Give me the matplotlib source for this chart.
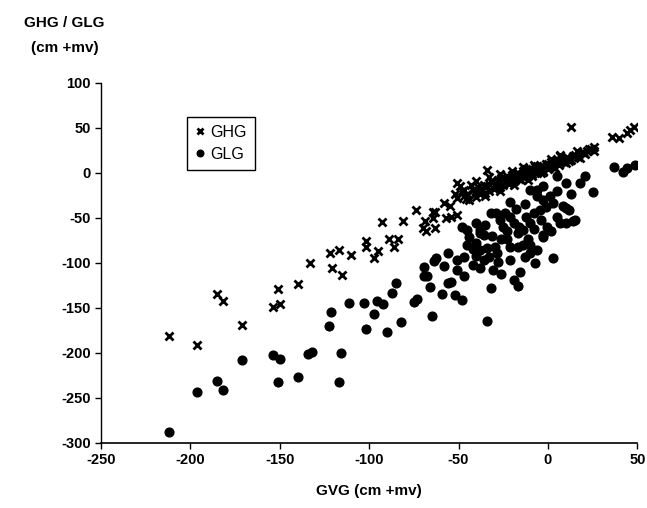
import matplotlib
matplotlib.use("Agg")
import matplotlib.pyplot as plt

plt.rcParams['font.family'] = ['Liberation Sans', 'DejaVu Sans']
plt.rcParams['axes.unicode_minus'] = False

# GHG points (GVG, GHG)
ghg_x = [-212, -196, -185, -182, -171, -151, -154, -150, -140, -133, -122, -117, -121, -115,
         -110, -97, -95, -102, -102, -89, -84, -86, -93, -81, -74, -64, -64, -69, -70, -68,
         -63, -58, -57, -55, -51, -49, -47, -47, -52, -51, -54, -51, -63, -34,
         13, 36, 40, 44, 48, 46, 24, 26, 16, 20, 7, 10,
         -45, -44, -42, -40, -39, -38, -36, -35, -34, -33, -31, -30, -29, -28, -27, -26,
         -25, -24, -23, -22, -21, -20, -19, -18, -17, -16, -15, -14, -13, -12, -11, -10,
         -9, -8, -7, -6, -5, -4, -3, -2, -1, 0, 1, 2, 3, 4, 5, 6, 8, 9, 11, 13, 15, 17,
         19, 21, 23, 26, -40, -33, -27, -20, -14, -8, 7, 10, 2,
         -48, -46, -43, -41, -37, -32, -29, -25, -22, -18, -15, -12, -9, -6, -3, 0, 3, 6,
         10, 14, 18, 22, -35, -27, -19, -11, -4, 4, 12]
ghg_y = [-181, -191, -134, -142, -169, -129, -149, -146, -123, -100, -89, -86, -106, -114,
         -91, -95, -87, -76, -82, -74, -73, -82, -55, -53, -41, -43, -50, -54, -61, -65,
         -61, -34, -50, -37, -11, -15, -19, -26, -23, -28, -49, -47, -44, 3,
         51, 40, 39, 44, 51, 48, 27, 29, 24, 22, 20, 16,
         -24, -30, -19, -27, -16, -24, -13, -22, -15, -20, -10, -18, -12, -8, -16, -6,
         -13, -9, -4, -12, -6, -2, -9, -4, 0, -7, -2, 2, -5, 1, -3, 4,
         -1, 3, 6, 0, 5, 8, 2, 7, 10, 4, 9, 12, 6, 11, 14, 9, 15, 12, 17, 14, 20, 18,
         23, 21, 26, 24, -9, -5, -1, 2, 6, 9, 19, 17, 15,
         -20, -29, -14, -22, -18, -9, -16, -7, -10, -1, -8, 4, -4, 8, 1, 10, 7, 13,
         11, 19, 16, 24, -26, -20, -14, -8, 0, 5, 13]

# GLG points (GVG, GLG)
glg_x = [-212, -196, -185, -182, -171, -154, -150, -151, -140,
         -121.5, -122.6, -116, -117, -134, -132, -111, -103, -95.5, -92, -97, -102, -90, -82,
         -87, -85, -75, -73, -65, -59, -66, -69.5, -67.6, -69.5, -63.5, -62.4, -55.6, -55.6,
         -44, -40, -38, -36, -40, -38, -34, -33, -36, -38, -42, -29.5, -28.6, -26, -28, -30.5,
         -23, -23, -21, -21, -17, -16.6, -14, -11, -10, -13, -15.6, -19, -16.6, -32, -51, -47,
         -51, -47, -54, -52, -48, -34,
         -32, -29, -27, -21, -19, -16, -12, -8, -10, -6, -21, -45, -38,
         37, 42, 44, 48.5, 20.6, 25, 18, 13, 15, 10, 3, 5, 10, 8.5, 12, 10.4, 1, 3, 5,
         -2.6, -6.3, -4.5, -0.7, -2.6, -10, -2.6, -6.3, -10, 7, 14,
         -48, -42, -35, -31, -25, -18, -14, -8, -4, -1, 2, -7, -26, -45, -3, 5, -13, -40,
         -24, -58]
glg_y = [-288, -243, -231, -241, -208, -202, -207, -232, -227,
         -155, -170, -200, -232, -201, -199, -144, -144, -142, -146, -157, -173, -177, -166,
         -133, -122, -143, -140, -159, -134, -127, -115, -115, -105, -98, -95, -89, -122,
         -71, -56, -67, -69, -78, -86, -84, -93, -97, -106, -102, -82, -89, -73, -99, -108,
         -65, -74, -82, -97, -67, -82, -63, -74, -89, -93, -110, -119, -126, -128, -97, -93,
         -108, -115, -121, -136, -141, -165,
         -45, -45, -52, -49, -56, -60, -49, -45, -19, -19, -32, -63, -63,
         7, 1, 5, 9, -4, -21, -11, -24, -52, -39, -95, -4, -11, -37, -41, -56, -26, -34, -49,
         -15, -26, -41, -60, -69, -56, -71, -86, -80, -56, -54,
         -60, -85, -58, -70, -60, -40, -80, -62, -52, -38, -65, -100, -112, -80, -30, -20,
         -35, -92, -45, -104]

fig = plt.figure(figsize=(6.47, 5.08), dpi=100)
ax = fig.add_axes([0.156, 0.128, 0.829, 0.709])

ax.plot(ghg_x, ghg_y, linestyle='none', marker='x', markersize=6, markeredgewidth=2,
        color='black', label='GHG')
ax.plot(glg_x, glg_y, linestyle='none', marker='o', markersize=6.3, color='black',
        label='GLG')

ax.set_xlim(-250, 50)
ax.set_ylim(-300, 100)
ax.set_xticks(range(-250, 51, 50))
ax.set_yticks(range(-300, 101, 50))
ax.tick_params(direction='out', length=4, width=1, labelsize=10.5, colors='black')
for lab in ax.get_xticklabels() + ax.get_yticklabels():
    lab.set_fontweight('bold')

ax.spines['top'].set_visible(False)
ax.spines['right'].set_visible(False)
ax.spines['left'].set_linewidth(1)
ax.spines['bottom'].set_linewidth(1.2)

ax.set_xlabel('GVG (cm +mv)', fontsize=11, fontweight='bold', labelpad=12)
fig.text(0.10, 0.955, 'GHG / GLG', fontsize=11, fontweight='bold', ha='center', va='center')
fig.text(0.10, 0.905, '(cm +mv)', fontsize=11, fontweight='bold', ha='center', va='center')

leg = ax.legend(loc='upper left', bbox_to_anchor=(0.16, 0.906), borderaxespad=0,
                fancybox=False, edgecolor='black', fontsize=11.5, handlelength=0.6,
                handletextpad=0.4, borderpad=0.5, labelspacing=0.45, framealpha=1,
                markerscale=0.75)
leg.get_frame().set_linewidth(1)

fig.savefig('out.png', dpi=100)
